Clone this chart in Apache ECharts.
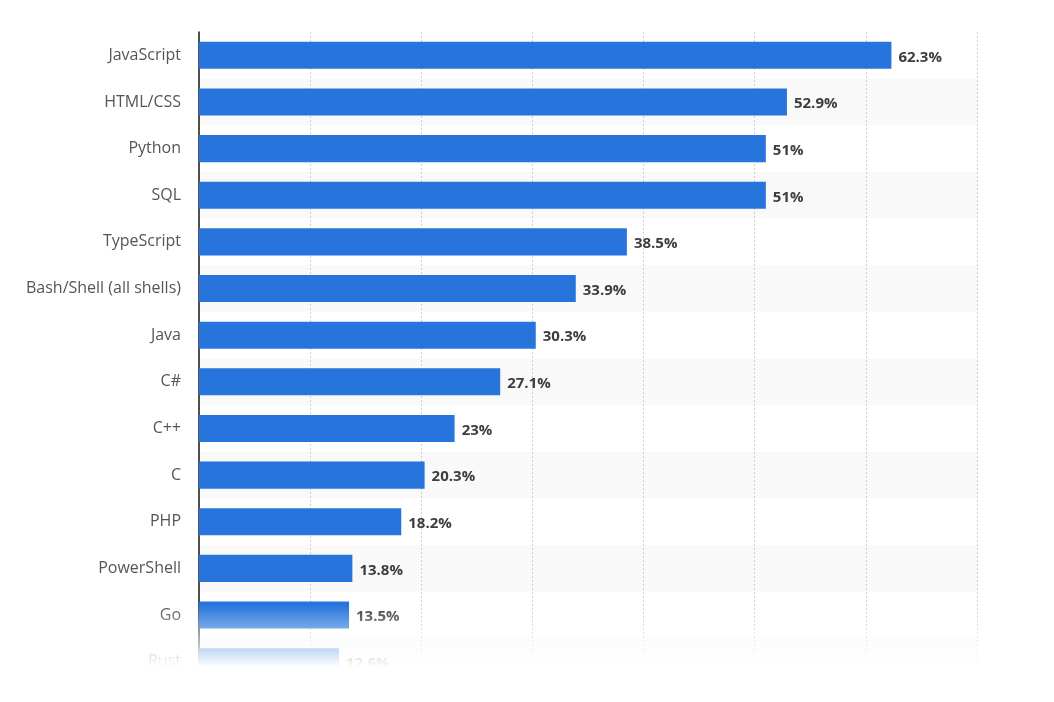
<!DOCTYPE html>
<html>
<head>
<meta charset="utf-8">
<script src="https://cdn.jsdelivr.net/npm/echarts@6/dist/echarts.min.js"></script>
<style>
html,body{margin:0;padding:0;background:#fff;}
#chart{width:1054px;height:702px;}
</style>
</head>
<body>
<div id="chart"></div>
<script>
const categories = ['JavaScript','HTML/CSS','Python','SQL','TypeScript','Bash/Shell (all shells)','Java','C#','C++','C','PHP','PowerShell','Go','Rust'];
const shares = [62.3, 52.9, 51, 51, 38.5, 33.9, 30.3, 27.1, 23, 20.3, 18.2, 13.8, 13.5, 12.6];
const axisMin = 0, axisMax = 70, axisStep = 10;

const chart = echarts.init(document.getElementById('chart'));
chart.setOption({
  backgroundColor: '#ffffff',
  animation: false,
  grid: { left: 199, right: 77, top: 32, bottom: 17, containLabel: false },
  xAxis: {
    type: 'value', min: axisMin, max: axisMax, interval: axisStep,
    axisLabel: { show: false }, axisLine: { show: false }, axisTick: { show: false },
    splitLine: { show: true, lineStyle: { color: '#cfcfcf', type: [2, 2], width: 1 } }
  },
  yAxis: {
    type: 'category', data: categories, inverse: true,
    axisTick: { show: false },
    axisLine: { show: true, lineStyle: { color: '#1a1a1a', width: 1.5 } },
    axisLabel: { color: '#555', fontSize: 16, fontFamily: 'Open Sans', margin: 18, padding: [6, 0, 0, 0] },
    splitArea: { show: true, areaStyle: { color: ['#ffffff', '#f9f9f9'] } }
  },
  series: [{
    type: 'bar', data: shares, barCategoryGap: '42%',
    itemStyle: { color: '#2775dc' },
    label: {
      show: true, position: 'right', distance: 7, offset: [0, 2],
      formatter: p => p.value + '%',
      color: '#3d3d3d', fontSize: 15, fontWeight: 'bold', fontFamily: 'Open Sans'
    }
  }],
  graphic: [{
    type: 'rect', left: 0, top: 605, z: 100,
    shape: { width: 1054, height: 97 },
    style: {
      fill: new echarts.graphic.LinearGradient(0, 0, 0, 1, [
        { offset: 0, color: 'rgba(255,255,255,0)' },
        { offset: 0.64, color: 'rgba(255,255,255,1)' },
        { offset: 1, color: 'rgba(255,255,255,1)' }
      ])
    },
    silent: true
  }]
});
</script>
</body>
</html>
